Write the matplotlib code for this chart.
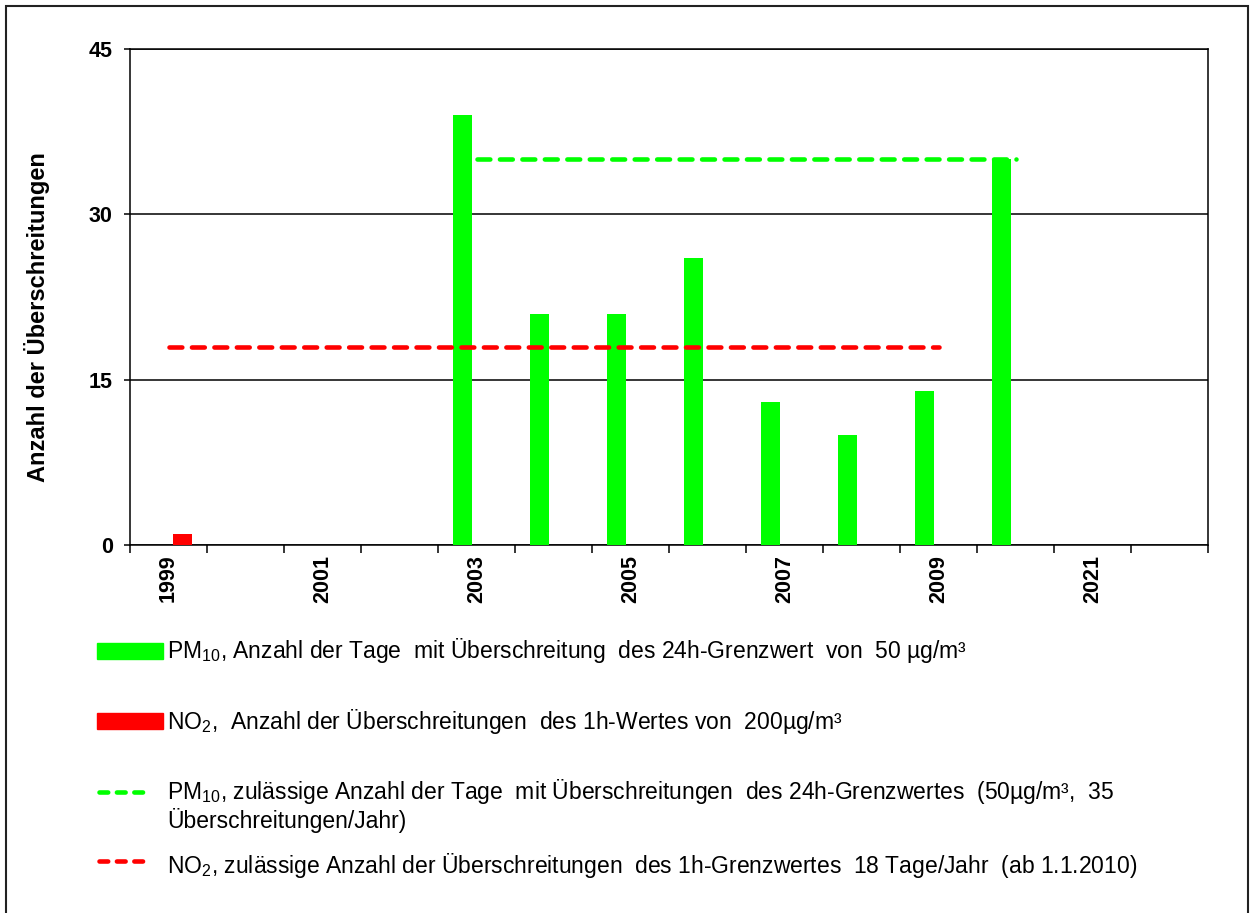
import numpy as np
import matplotlib
matplotlib.use("Agg")
import matplotlib.pyplot as plt
from matplotlib.patches import Rectangle
from matplotlib.lines import Line2D

plt.rcParams['font.family'] = ['Liberation Sans', 'DejaVu Sans']
plt.rcParams['mathtext.default'] = 'regular'

# Kategorien (Jahre) - nur jede zweite wird beschriftet
jahre = ["1999", "2000", "2001", "2002", "2003", "2004", "2005",
         "2006", "2007", "2008", "2009", "2010", "2021", "2022"]
# PM10: Anzahl der Tage mit Überschreitung
pm10 = [0, 0, 0, 0, 39, 21, 21, 26, 13, 10, 14, 35, 0, 0]
# NO2: Anzahl der Überschreitungen
no2 = [1, 0, 0, 0, 0, 0, 0, 0, 0, 0, 0, 0, 0, 0]
# zulässige Anzahl (Grenzlinien)
pm10_grenze = [np.nan] * 4 + [35] * 8 + [np.nan] * 2
no2_grenze = [18] * 11 + [np.nan] * 3

gruen = "#00ff00"
rot = "#ff0000"

W, H = 1250, 913
fig = plt.figure(figsize=(W / 100, H / 100), dpi=100)
ax = fig.add_axes([130 / W, 1 - 545 / H, 1078 / W, 496 / H])

x = np.arange(len(jahre))
ax.bar(x - 0.18, pm10, width=0.25, color=gruen, zorder=3)
ax.bar(x + 0.18, no2, width=0.25, color=rot, zorder=3)

ax.plot(x, pm10_grenze, color=gruen, lw=3.3, dashes=(2.8, 2.1),
        dash_capstyle='round', zorder=4)
ax.plot(x, no2_grenze, color=rot, lw=3.3, dashes=(2.8, 2.1),
        dash_capstyle='round', zorder=4)

ax.set_xlim(-0.5, len(jahre) - 0.5)
ax.set_ylim(0, 45)
ax.set_yticks([0, 15, 30, 45])
ax.yaxis.grid(True, color='black', lw=1.1, zorder=0)
ax.set_axisbelow(True)
ax.tick_params(axis='y', direction='out', length=4.5, width=1.1, pad=8,
               labelsize=15.5)
for lab in ax.get_yticklabels():
    lab.set_fontweight('bold')

# Striche an Kategoriegrenzen, Beschriftung jeder zweiten Kategorie
ax.set_xticks(np.arange(len(jahre) + 1) - 0.5)
ax.set_xticklabels([])
ax.tick_params(axis='x', which='major', direction='out', length=6, width=1.1)
ax.set_xticks(x[::2], minor=True)
ax.set_xticklabels(jahre[::2], minor=True, rotation=90, fontsize=15.5,
                   fontweight='bold')
ax.tick_params(axis='x', which='minor', length=0, pad=7)

for s in ax.spines.values():
    s.set_linewidth(1.1)
    s.set_color('black')

ax.set_ylabel("Anzahl der Überschreitungen", fontsize=17, fontweight='bold')
ax.yaxis.set_label_coords(-0.074, 0.46)

# Legende unterhalb des Diagramms
def fy(py):
    return 1 - py / H

fig.patches.append(Rectangle((97 / W, fy(659)), 66 / W, 16 / H,
                             transform=fig.transFigure, color=gruen))
fig.patches.append(Rectangle((97 / W, fy(729)), 66 / W, 16 / H,
                             transform=fig.transFigure, color=rot))
for py, c in [(792, gruen), (861, rot)]:
    fig.lines.append(Line2D([99 / W, 143 / W], [fy(py), fy(py)],
                            transform=fig.transFigure, color=c, lw=3.3,
                            dashes=(1.9, 1.9), dash_capstyle='round'))

fs = 16.5
fig.text(167 / W, fy(658), "PM$_{10}$, Anzahl der Tage  mit Überschreitung  des 24h-Grenzwert  von  50 µg/m³",
         fontsize=fs, va='baseline')
fig.text(167 / W, fy(729), "NO$_2$,  Anzahl der Überschreitungen  des 1h-Wertes von  200µg/m³",
         fontsize=fs, va='baseline')
fig.text(167 / W, fy(799), "PM$_{10}$, zulässige Anzahl der Tage  mit Überschreitungen  des 24h-Grenzwertes  (50µg/m³,  35",
         fontsize=fs, va='baseline')
fig.text(167 / W, fy(828), "Überschreitungen/Jahr)", fontsize=fs, va='baseline')
fig.text(167 / W, fy(873), "NO$_2$, zulässige Anzahl der Überschreitungen  des 1h-Grenzwertes  18 Tage/Jahr  (ab 1.1.2010)",
         fontsize=fs, va='baseline')

# Rahmen um die Grafik
fig.patches.append(Rectangle((6 / W, -0.05), 1242 / W, fy(6) + 0.05,
                             transform=fig.transFigure, fill=False,
                             edgecolor='#222222', lw=1.5))

fig.savefig("out.png", dpi=100)
